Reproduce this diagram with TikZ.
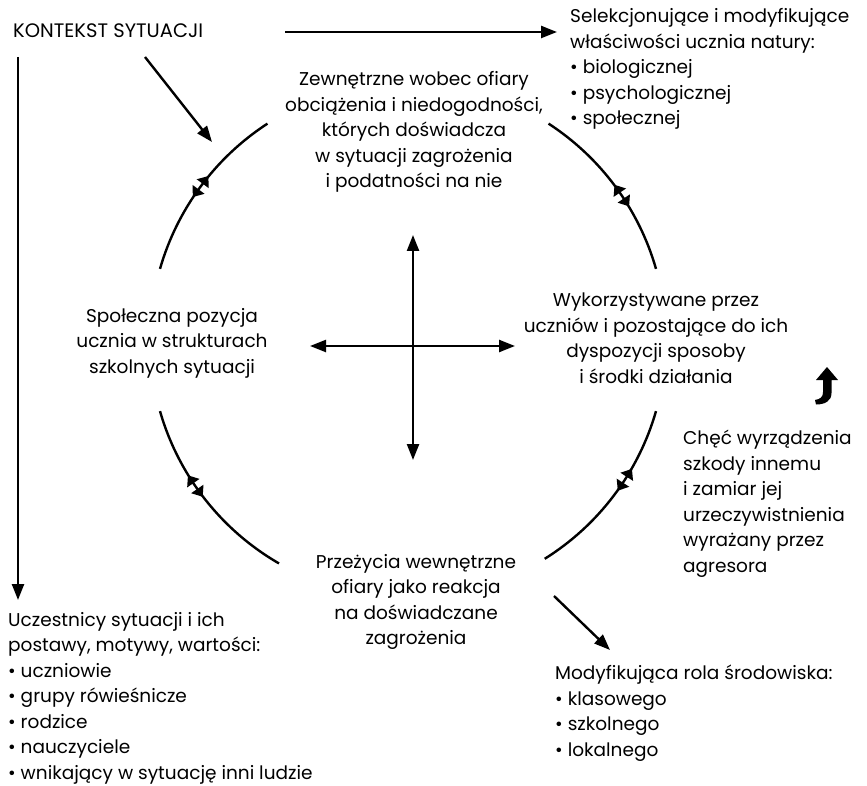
\documentclass[tikz,border=0pt]{standalone}
\usepackage{fontspec}
\setmainfont{Poppins}
\usetikzlibrary{arrows.meta,decorations.markings}
\begin{document}
\begin{tikzpicture}[x=1pt,y=-1pt,
  font=\fontsize{18.5}{25.5}\selectfont,
  txt/.style={inner sep=0pt, align=center},
  ltxt/.style={inner sep=0pt, align=left},
  conn/.style={line width=2.4pt, -{Triangle[length=16pt,width=12pt]}},
  dconn/.style={line width=2.4pt, {Triangle[length=16pt,width=12pt]}-{Triangle[length=16pt,width=12pt]}},
  ring/.style={line width=2.4pt},
  pairmark/.style={postaction={decorate}, decoration={markings, mark=at position #1 with {
      \fill (-3.5pt,-7.5pt) -- (-13pt,0pt) -- (-3.5pt,7.5pt) -- cycle;
      \fill (3.5pt,-7.5pt) -- (13pt,0pt) -- (3.5pt,7.5pt) -- cycle;}}}
]
\useasboundingbox (0,0) rectangle (867,786);

% circle centre
\coordinate (c) at (408,340);

% texts
\node[ltxt, anchor=west, font=\fontsize{19.5}{25.5}\selectfont] (kontekst) at (13,31) {KONTEKST SYTUACJI};
\node[txt] (zewn) at (414,132) {Zewnętrzne wobec ofiary\\obciążenia i niedogodności,\\których doświadcza\\w sytuacji zagrożenia\\i podatności na nie};
\node[txt] (spol) at (172,343) {Społeczna pozycja\\ucznia w strukturach\\szkolnych sytuacji};
\node[txt] (wyk) at (656,338) {Wykorzystywane przez\\uczniów i pozostające do ich\\dyspozycji sposoby\\i środki działania};
\node[txt] (przez) at (416,602) {Przeżycia wewnętrzne\\ofiary jako reakcja\\na doświadczane\\zagrożenia};
\node[ltxt, anchor=west] (chec) at (683,504) {Chęć wyrządzenia\\szkody innemu\\i zamiar jej\\urzeczywistnienia\\wyrażany przez\\agresora};
\node[ltxt, anchor=west] (selek) at (570,69) {Selekcjonujące i modyfikujące\\właściwości ucznia natury:\\\textbullet\ biologicznej\\\textbullet\ psychologicznej\\\textbullet\ społecznej};
\node[ltxt, anchor=west] (uczest) at (8,698) {Uczestnicy sytuacji i ich\\postawy, motywy, wartości:\\\textbullet\ uczniowie\\\textbullet\ grupy rówieśnicze\\\textbullet\ rodzice\\\textbullet\ nauczyciele\\\textbullet\ wnikający w sytuację inni ludzie};
\node[ltxt, anchor=west] (modyf) at (555,713) {Modyfikująca rola środowiska:\\\textbullet\ klasowego\\\textbullet\ szkolnego\\\textbullet\ lokalnego};

% connector end points
\coordinate (k1) at (145,57);
\coordinate (k2) at (212,142);
\coordinate (h1) at (285,32);
\coordinate (h2) at (557,32);
\coordinate (v1) at (18,57);
\coordinate (v2) at (18,600);
\coordinate (p1) at (554,596);
\coordinate (p2) at (610,650);
\coordinate (crossT) at (413,235);
\coordinate (crossB) at (413,460);
\coordinate (crossL) at (310,346);
\coordinate (crossR) at (515,346);

\draw[conn] (k1) -- (k2);
\draw[conn] (h1) -- (h2);
\draw[conn] (v1) -- (v2);
\draw[conn] (p1) -- (p2);
\draw[dconn] (crossT) -- (crossB);
\draw[dconn] (crossL) -- (crossR);

% ring arcs (angles measured with y pointing down)
\draw[ring, pairmark=0.5] (c) ++(-123:258) arc[start angle=-123, end angle=-164, radius=258];
\draw[ring, pairmark=0.56] (c) ++(-57:258) arc[start angle=-57, end angle=-16, radius=258];
\draw[ring, pairmark=0.42] (c) ++(-196:258) arc[start angle=-196, end angle=-240, radius=258];
\draw[ring, pairmark=0.6] (c) ++(-302:258) arc[start angle=-302, end angle=-344, radius=258];

% thick curved up arrow
\fill (827,367) -- (838,380) -- (831.5,380) -- (831.5,393) .. controls (831.5,401) and (825,404.5) .. (816,404.5) -- (815,400) .. controls (820.5,399) and (823,397) .. (823,392) -- (823,380) -- (816,380) -- cycle;
\end{tikzpicture}
\end{document}
